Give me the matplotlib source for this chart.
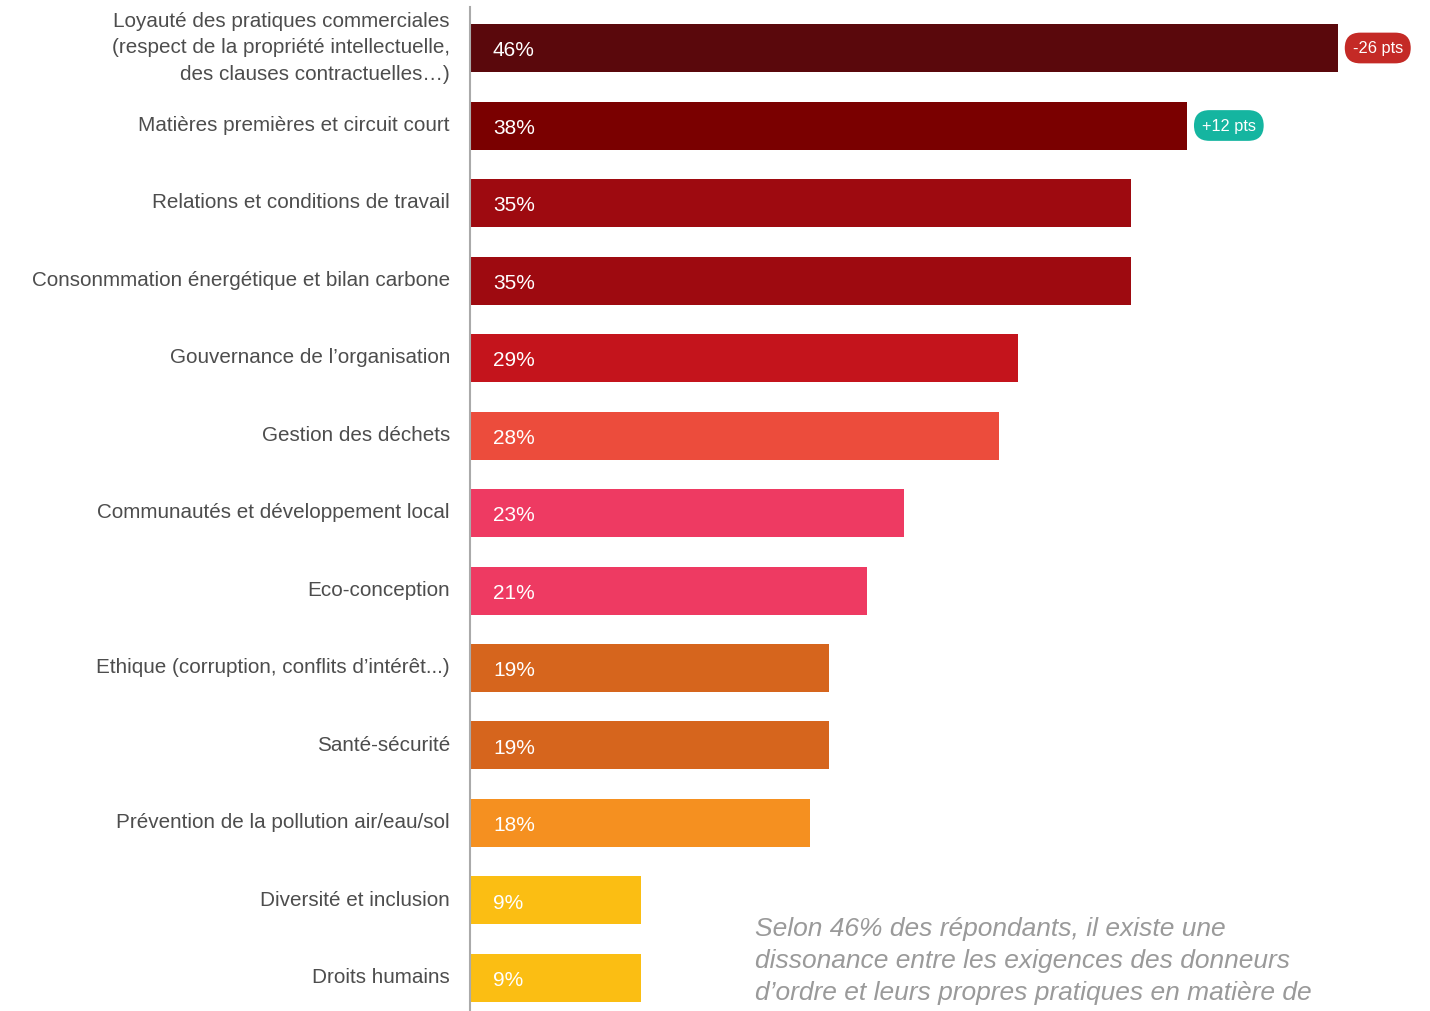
import matplotlib
matplotlib.use("Agg")
import matplotlib.pyplot as plt

# Data
categories = [
    "Loyauté des pratiques commerciales\n(respect de la propriété intellectuelle,\ndes clauses contractuelles…)",
    "Matières premières et circuit court",
    "Relations et conditions de travail",
    "Consonmmation énergétique et bilan carbone",
    "Gouvernance de l’organisation",
    "Gestion des déchets",
    "Communautés et développement local",
    "Eco-conception",
    "Ethique (corruption, conflits d’intérêt...)",
    "Santé-sécurité",
    "Prévention de la pollution air/eau/sol",
    "Diversité et inclusion",
    "Droits humains",
]
values = [46, 38, 35, 35, 29, 28, 23, 21, 19, 19, 18, 9, 9]
colors = ["#5a080c", "#7a0000", "#9e0a10", "#9e0a10", "#c4141c", "#ec4c3c",
          "#ee3a62", "#ee3a62", "#d6651d", "#d6651d", "#f59020", "#fbbe13", "#fbbe13"]

badge_rows = [0, 1]
badge_texts = ["-26 pts", "+12 pts"]
badge_colors = ["#c42a26", "#15b5a0"]

note = ("Selon 46% des répondants, il existe une\n"
        "dissonance entre les exigences des donneurs\n"
        "d’ordre et leurs propres pratiques en matière de")

plt.rcParams["font.family"] = ["Liberation Sans", "DejaVu Sans"]

W, H = 1430, 1012
fig = plt.figure(figsize=(W / 100, H / 100), dpi=100)
left_px, top_px = 470, 8
ax = fig.add_axes([left_px / W, 0, 1 - left_px / W, 1 - top_px / H])

px_per_pct = 18.85
row_px = 77.5
axes_w = W - left_px
ax.set_xlim(0, axes_w / px_per_pct)
ax.set_ylim(12 + (H - 979) / row_px, (top_px - 49) / row_px)

rows = list(range(len(values)))
ax.barh(rows, values, height=48 / row_px, color=colors, left=0.05)

for i, (v, lab) in enumerate(zip(values, categories)):
    ax.annotate(f"{v}%", xy=(0, i), xytext=(16.5, -1.2), textcoords="offset points",
                color="white", fontsize=15, va="center", ha="left")
    ax.annotate(lab, xy=(0, i), xytext=(-14.4, 1.0), textcoords="offset points",
                ha="right", va="center", fontsize=14.9, color="#4d4d4d",
                linespacing=1.5, annotation_clip=False)

for r, t, c in zip(badge_rows, badge_texts, badge_colors):
    ax.annotate(t, xy=(values[r] + 0.05, r), xytext=(10.5, 0), textcoords="offset points",
                ha="left", va="center", fontsize=11.8, color="white",
                bbox=dict(boxstyle="round,pad=0.48,rounding_size=0.95", fc=c, ec="none"))

ax.text(755 / W, 1 - 961 / H, note, transform=fig.transFigure, ha="left", va="center",
        fontsize=19, style="italic", color="#9a9a9a", linespacing=1.43)

for s in ["top", "right", "bottom"]:
    ax.spines[s].set_visible(False)
ax.spines["left"].set_color("#aaaaaa")
ax.spines["left"].set_linewidth(1.5)
ax.set_xticks([])
ax.set_yticks([])

fig.savefig("out.png", dpi=100)
